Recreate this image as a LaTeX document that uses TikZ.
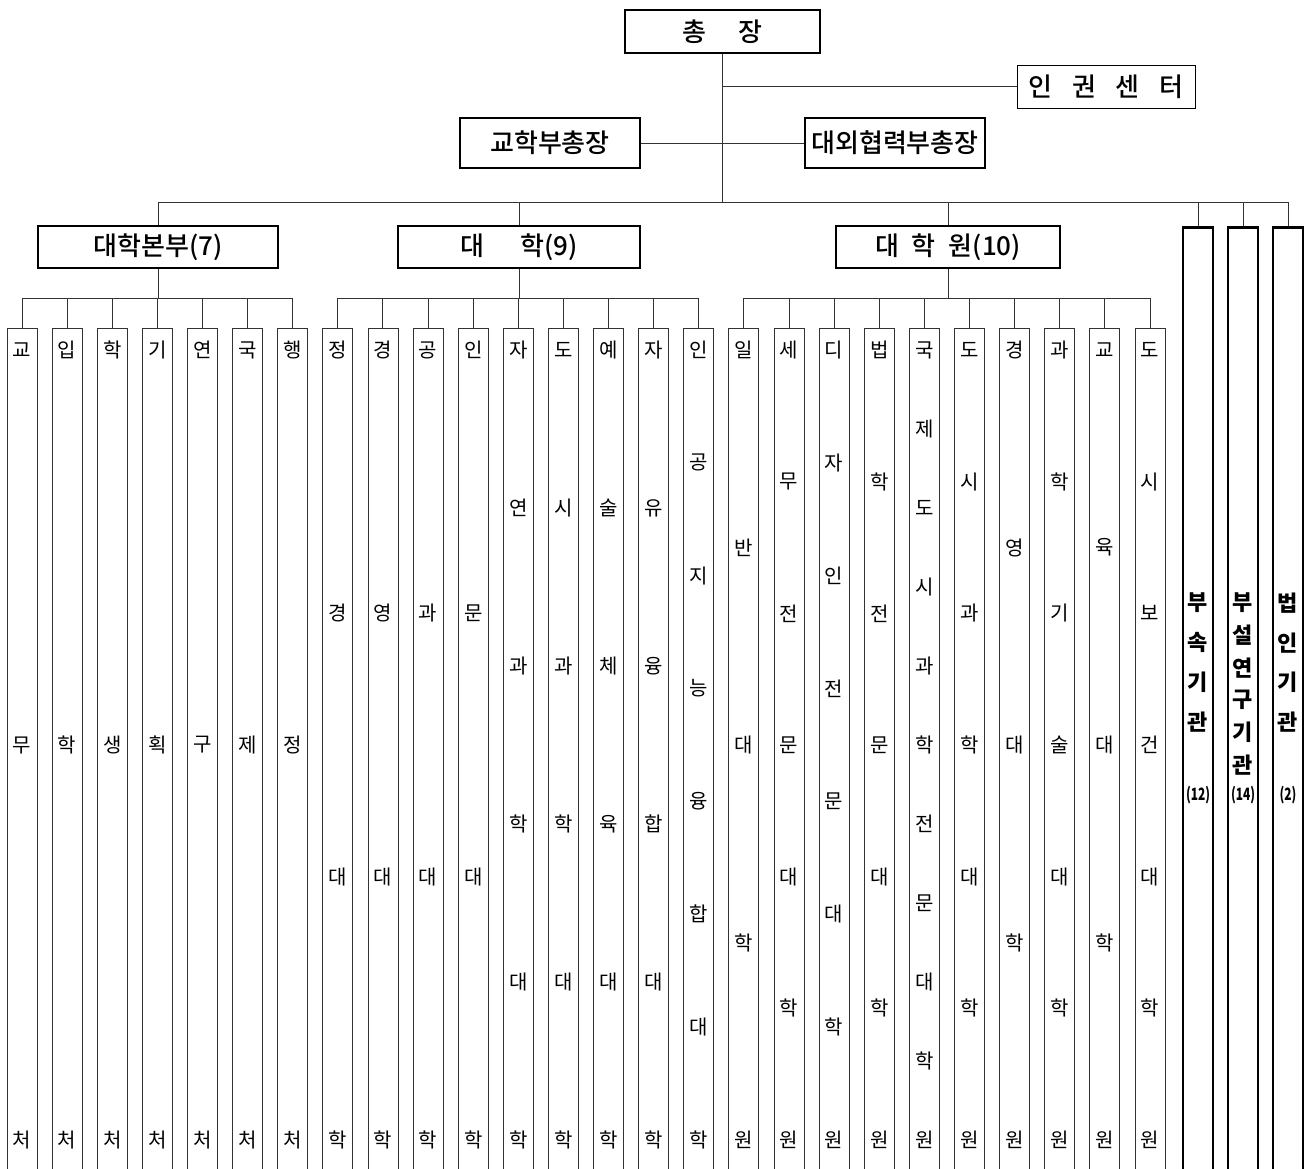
\documentclass[tikz,border=0pt]{standalone}
\usepackage{fontspec}
\setmainfont{Noto Sans CJK KR}[BoldFont={Noto Sans CJK KR Medium}]
\newfontfamily\krheavy{Noto Sans CJK KR}
\tikzset{
  conn/.style={draw=black!80, line width=1pt},
  headbox/.style={draw, line width=2.6pt, inner sep=0pt, font=\fontsize{26}{26}\selectfont\bfseries},
  thinbox/.style={draw, line width=1pt, inner sep=0pt, font=\fontsize{26}{26}\selectfont\bfseries},
  colbox/.style={draw=black!80, line width=0.9pt, anchor=north, minimum width=30pt, minimum height=870pt, inner sep=0pt},
  coltext/.style={inner sep=0pt, font=\fontsize{20}{20}\selectfont},
  unitbox/.style={draw, line width=2.8pt, anchor=north, minimum width=30pt, minimum height=980pt, inner sep=0pt},
  unittext/.style={inner sep=0pt, font=\fontsize{22}{22}\selectfont\krheavy\bfseries},
  unitnum/.style={inner sep=0pt, font=\fontsize{17}{17}\selectfont\krheavy\bfseries}
}
% one office column: index, number of letters, letters
\newcommand\DrawCol[3]{%
  \node[colbox] (c#1) at ({22+(#1-1)*45.12},328) {};
  \draw[conn] (c#1.north) -- (c#1.north |- bus2);
  \foreach \ch [count=\i] in {#3}
    \node[coltext] (c#1-\i) at ({22+(#1-1)*45.12},{350+(\i-1)*790/(#2-1)}) {\ch};
}
% one tall unit box: name, x, gap, letters, count
\newcommand\DrawUnit[5]{%
  \node[unitbox] (#1) at (#2,226) {};
  \draw[conn] (#1.north) -- (#1.north |- bus1);
  \foreach \ch [count=\i] in {#4}
    \node[unittext] (#1-\i) at (#2,{603+(\i-1)*#3}) {\ch};
  \node[unitnum] (#1-n) at (#2,795) {\scalebox{0.7}[1]{#5}};
}
\begin{document}
\begin{tikzpicture}[x=1pt,y=-1pt]
\useasboundingbox (0,0) rectangle (1307,1168);
\coordinate (bus1) at (0,202);
\coordinate (bus2) at (0,298);

% top
\node[headbox, minimum width=195pt, minimum height=43pt] (pres) at (722.5,31.5) {총\hspace{1.2em}장};
\node[thinbox, minimum width=178pt, minimum height=43pt] (rights) at (1106,86.5) {인\hspace{0.75em}권\hspace{0.75em}센\hspace{0.75em}터};
\node[headbox, minimum width=180pt, minimum height=50pt] (vpa) at (550,143) {교학부총장};
\node[headbox, minimum width=180pt, minimum height=50pt] (vpe) at (895,143) {대외협력부총장};
\draw[conn] (pres.south) -- (pres.south |- bus1);
\draw[conn] (pres.south |- rights.west) -- (rights.west);
\draw[conn] (vpa.east) -- (vpe.west);

% second level
\node[headbox, minimum width=240pt, minimum height=42pt] (bonbu) at (158,247) {대학본부(7)};
\node[headbox, minimum width=242pt, minimum height=42pt] (daehak) at (519,247) {대\hspace{1.4em}학(9)};
\node[headbox, minimum width=224pt, minimum height=42pt] (grad) at (948,247) {대\hspace{0.5em}학\hspace{0.5em}원(10)};
\draw[conn] (bonbu.north |- bus1) -- (1288,202);
\foreach \g in {bonbu,daehak,grad}
  \draw[conn] (\g.north) -- (\g.north |- bus1);

\DrawUnit{inst1}{1198}{39.7}{부,속,기,관}{(12)}
\DrawUnit{inst2}{1243}{32.4}{부,설,연,구,기,관}{(14)}
\DrawUnit{inst3}{1288}{39.7}{법,인,기,관}{(2)}

% columns
\DrawCol{1}{3}{교,무,처}
\DrawCol{2}{3}{입,학,처}
\DrawCol{3}{3}{학,생,처}
\DrawCol{4}{3}{기,획,처}
\DrawCol{5}{3}{연,구,처}
\DrawCol{6}{3}{국,제,처}
\DrawCol{7}{3}{행,정,처}
\DrawCol{8}{4}{정,경,대,학}
\DrawCol{9}{4}{경,영,대,학}
\DrawCol{10}{4}{공,과,대,학}
\DrawCol{11}{4}{인,문,대,학}
\DrawCol{12}{6}{자,연,과,학,대,학}
\DrawCol{13}{6}{도,시,과,학,대,학}
\DrawCol{14}{6}{예,술,체,육,대,학}
\DrawCol{15}{6}{자,유,융,합,대,학}
\DrawCol{16}{8}{인,공,지,능,융,합,대,학}
\DrawCol{17}{5}{일,반,대,학,원}
\DrawCol{18}{7}{세,무,전,문,대,학,원}
\DrawCol{19}{8}{디,자,인,전,문,대,학,원}
\DrawCol{20}{7}{법,학,전,문,대,학,원}
\DrawCol{21}{11}{국,제,도,시,과,학,전,문,대,학,원}
\DrawCol{22}{7}{도,시,과,학,대,학,원}
\DrawCol{23}{5}{경,영,대,학,원}
\DrawCol{24}{7}{과,학,기,술,대,학,원}
\DrawCol{25}{5}{교,육,대,학,원}
\DrawCol{26}{7}{도,시,보,건,대,학,원}
\draw[conn] (c1.north |- bus2) -- (c7.north |- bus2);
\draw[conn] (c8.north |- bus2) -- (c16.north |- bus2);
\draw[conn] (c17.north |- bus2) -- (c26.north |- bus2);
\draw[conn] (bonbu.south) -- (bonbu.south |- bus2);
\draw[conn] (daehak.south) -- (daehak.south |- bus2);
\draw[conn] (grad.south) -- (grad.south |- bus2);
\end{tikzpicture}
\end{document}
